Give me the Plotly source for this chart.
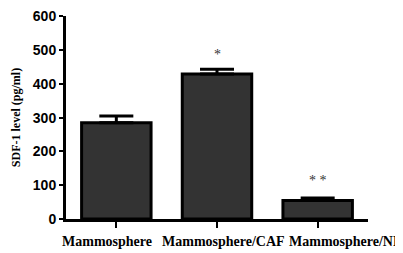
import plotly.graph_objects as go

categories = ["Mammosphere", "Mammosphere/CAF", "Mammosphere/NF"]
sdf1_levels = [285, 429, 55]
sdf1_err = [20, 14, 7]
sig_labels = ["", "*", "* *"]
sig_y = [0, 488, 113]
y_ticks = [0, 100, 200, 300, 400, 500, 600]
label_shift = [-9, 6, 28]

fig = go.Figure()
fig.add_trace(go.Bar(
    x=categories, y=sdf1_levels, width=0.69,
    marker=dict(color="#333333", line=dict(color="black", width=3)),
    error_y=dict(type="data", array=sdf1_err, arrayminus=[0, 0, 0], symmetric=False,
                 color="black", thickness=3, width=17),
))
for c, s, yy in zip(categories, sig_labels, sig_y):
    if s:
        fig.add_annotation(x=c, y=yy, text=s, showarrow=False,
                           font=dict(family="Liberation Serif", size=14, color="#333333"))
for c, sh in zip(categories, label_shift):
    fig.add_annotation(x=c, y=0, yref="paper", text=c, showarrow=False,
                       xshift=sh, yshift=-22, yanchor="middle",
                       font=dict(family="Liberation Serif", size=14, color="black", weight="bold"))

fig.update_layout(
    width=395, height=245,
    margin=dict(l=58, r=35, t=8, b=34),
    plot_bgcolor="white", paper_bgcolor="white",
    showlegend=False,
)
fig.update_xaxes(
    range=[-0.5, 2.5], showline=True, linecolor="black", linewidth=3,
    ticks="outside", ticklen=6, tickwidth=2, tickcolor="black",
    showticklabels=False, showgrid=False, zeroline=False, automargin=False,
)
fig.update_yaxes(
    range=[0, 601], tickvals=y_ticks, showline=True, linecolor="black", linewidth=3,
    ticks="outside", ticklen=4, tickwidth=2, tickcolor="black",
    tickfont=dict(family="Liberation Sans", size=14, color="black", weight="bold"),
    ticklabeloverflow="allow",
    showgrid=False, zeroline=False, automargin=False,
    title=dict(text="SDF-1 level (pg/ml)", standoff=10,
               font=dict(family="Liberation Serif", size=12, color="black", weight="bold")),
)
fig.write_html("out.html")
